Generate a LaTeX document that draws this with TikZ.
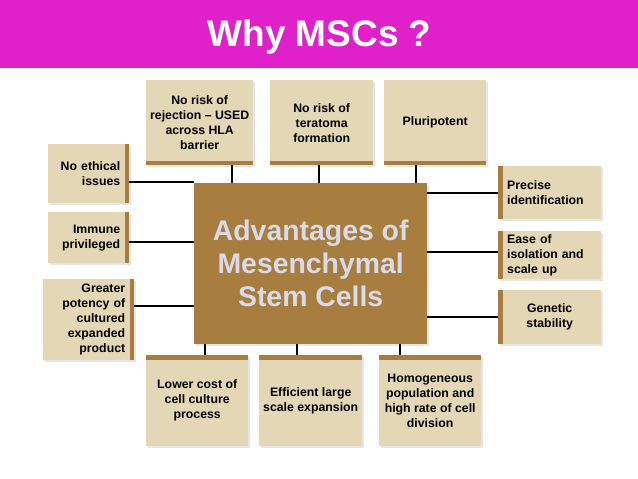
\documentclass[tikz,border=0pt]{standalone}
\usepackage{fontspec}
\setmainfont{Liberation Sans}
\usetikzlibrary{shadows}

\definecolor{titlepink}{RGB}{224,32,200}
\definecolor{mscbrown}{RGB}{168,126,64}
\definecolor{mscbeige}{RGB}{227,215,181}
\definecolor{msctext}{RGB}{218,218,232}

\begin{document}
\begin{tikzpicture}[x=1pt, y=-1pt,
    feature/.style={fill=mscbeige, inner sep=0pt, anchor=north west, align=center,
      font=\bfseries\fontsize{12.3}{15}\selectfont,
      drop shadow={shadow xshift=1.5pt, shadow yshift=-1.5pt, opacity=0.2}},
    stripbottom/.style={path picture={\fill[mscbrown] (path picture bounding box.south west)
      rectangle ([yshift=4.5pt]path picture bounding box.south east);}},
    striptop/.style={path picture={\fill[mscbrown] (path picture bounding box.north west)
      rectangle ([yshift=-4.5pt]path picture bounding box.north east);}},
    stripleft/.style={path picture={\fill[mscbrown] (path picture bounding box.south west)
      rectangle ([xshift=4.5pt]path picture bounding box.north west);}},
    stripright/.style={path picture={\fill[mscbrown] (path picture bounding box.south east)
      rectangle ([xshift=-4.5pt]path picture bounding box.north east);}},
    link/.style={line width=1.6pt}]
  \useasboundingbox (0,0) rectangle (638,479);

  % Title band.
  \fill[titlepink] (0,0) rectangle (638,68);
  \node[font=\bfseries\fontsize{37}{44}\selectfont, text=white] (title) at (319.5,37)
    {Why MSCs ?};

  % Central box.
  \node[fill=mscbrown, anchor=north west, minimum width=233pt, minimum height=161pt,
    inner sep=0pt, align=center, text=msctext,
    font=\bfseries\fontsize{28.4}{33}\selectfont,
    drop shadow={shadow xshift=1.5pt, shadow yshift=-1.5pt, opacity=0.2}]
    (adv) at (194,183) {Advantages of\\Mesenchymal\\Stem Cells};

  % Top row.
  \node[feature, stripbottom, minimum width=107pt, minimum height=85pt]
    (rejection) at (146,80) {No risk of\\rejection -- USED\\across HLA\\barrier};
  \node[feature, stripbottom, minimum width=103pt, minimum height=85pt]
    (teratoma) at (270,80) {No risk of\\teratoma\\formation};
  \node[feature, stripbottom, minimum width=102pt, minimum height=85pt]
    (pluri) at (384,80) {Pluripotent};

  % Left column.
  \node[feature, stripright, align=right, text width=63pt, minimum width=81pt,
    minimum height=59pt] (ethical) at (48,144) {No ethical\\issues};
  \node[feature, stripright, align=right, text width=63pt, minimum width=81pt,
    minimum height=51pt] (immune) at (48,212) {Immune\\privileged};
  \node[feature, stripright, align=right, text width=73pt, minimum width=91pt,
    minimum height=81pt] (potency) at (43,279)
    {Greater\\potency of\\cultured\\expanded\\product};

  % Right column.
  \node[feature, stripleft, align=left, text width=85pt, minimum width=103pt,
    minimum height=53pt] (precise) at (498,166) {Precise\\identification};
  \node[feature, stripleft, align=left, text width=85pt, minimum width=103pt,
    minimum height=48pt] (isolation) at (498,231) {Ease of\\isolation and\\scale up};
  \node[feature, stripleft, minimum width=103pt, minimum height=54pt]
    (genetic) at (498,290) {Genetic\\stability};

  % Bottom row.
  \node[feature, striptop, minimum width=102pt, minimum height=91pt]
    (cost) at (146,355) {Lower cost of\\cell culture\\process};
  \node[feature, striptop, minimum width=103pt, minimum height=91pt]
    (expansion) at (259,355) {Efficient large\\scale expansion};
  \node[feature, striptop, minimum width=102pt, minimum height=91pt]
    (homog) at (379,355) {Homogeneous\\population and\\high rate of cell\\division};

  % Connectors.
  \draw[link] ([xshift=32.5pt]rejection.south) -- ([xshift=32.5pt]rejection.south |- adv.north);
  \draw[link] ([xshift=-2.5pt]teratoma.south) -- ([xshift=-2.5pt]teratoma.south |- adv.north);
  \draw[link] ([xshift=-19pt]pluri.south) -- ([xshift=-19pt]pluri.south |- adv.north);
  \draw[link] ([yshift=-8.5pt]ethical.east) -- ([yshift=-8.5pt]ethical.east -| adv.west);
  \draw[link] ([yshift=-4.5pt]immune.east) -- ([yshift=-4.5pt]immune.east -| adv.west);
  \draw[link] ([yshift=13.5pt]potency.east) -- ([yshift=13.5pt]potency.east -| adv.west);
  \draw[link] (adv.east |- precise.west) -- (precise.west);
  \draw[link] ([yshift=3pt]adv.east |- isolation.west) -- ([yshift=3pt]isolation.west);
  \draw[link] (adv.east |- genetic.west) -- (genetic.west);
  \draw[link] ([xshift=8pt]cost.north) -- ([xshift=8pt]cost.north |- adv.south);
  \draw[link] ([xshift=-13.5pt]expansion.north) -- ([xshift=-13.5pt]expansion.north |- adv.south);
  \draw[link] ([xshift=-30pt]homog.north) -- ([xshift=-30pt]homog.north |- adv.south);
\end{tikzpicture}
\end{document}
